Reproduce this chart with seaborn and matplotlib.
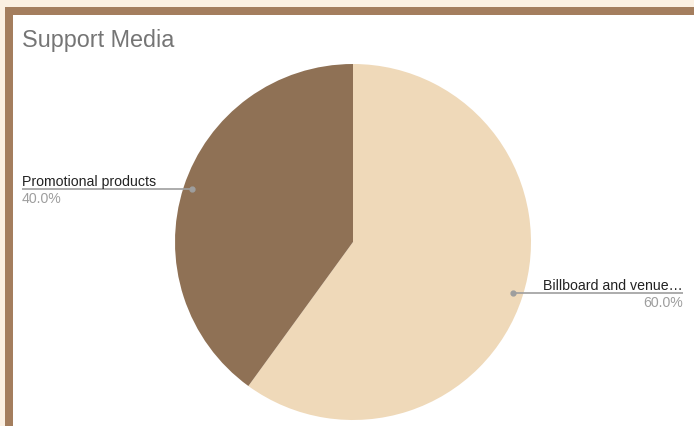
import matplotlib
matplotlib.use("Agg")
import matplotlib.pyplot as plt
import seaborn as sns
from matplotlib.patches import Rectangle

# Data
categories = ["Billboard and venue\u2026", "Promotional products"]
shares = [60.0, 40.0]
slice_colors = ["#EFD9B9", "#8F7155"]
title_text = "Support Media"

sns.set_theme(style="white")
plt.rcParams["font.family"] = ["Liberation Sans", "DejaVu Sans"]

W, H = 694, 427
fig = plt.figure(figsize=(W / 100, H / 100), dpi=100)
fig.patch.set_facecolor("#FBF0E2")

# Frame: brown border along top and left, white card inside
fig.patches.append(Rectangle((5 / W, 0), 1 - 5 / W, 1 - 8 / H,
                             transform=fig.transFigure, facecolor="#A47E5E",
                             edgecolor="none", zorder=-2))
fig.patches.append(Rectangle((13 / W, 0), 1 - 13 / W, 1 - 16 / H,
                             transform=fig.transFigure, facecolor="white",
                             edgecolor="none", zorder=-1))

# Full-figure axes, data units scaled so a unit radius is 178 px
cx, cy, r = 353, 243, 178
ax = fig.add_axes([0, 0, 1, 1])
ax.set_zorder(1)
ax.set_facecolor("none")
wedges, _ = ax.pie(shares, colors=slice_colors, startangle=90, counterclock=False,
                   radius=1.0, wedgeprops=dict(linewidth=0))
ax.set_aspect("auto")
ax.set_xlim(-cx / r, (W - cx) / r)
ax.set_ylim(-(H - cy) / r, cy / r)
ax.axis("off")


def px(x, y):
    """Pixel position (from top-left) to data coordinates."""
    return (x - cx) / r, (cy - y) / r


line_col = "#9E9E9E"
lab_col = "#222222"
pct_col = "#9E9E9E"
fs = 10.2

# Billboard label (right side)
x0, y0 = px(513, 294)
x1, _ = px(683, 294)
ax.plot([x0, x1], [y0, y0], color=line_col, lw=1.2, solid_capstyle="butt")
ax.plot([x0], [y0], "o", color=line_col, ms=3.5)
tx, ty = px(683, 290)
ax.text(tx, ty, categories[0], ha="right", va="baseline", fontsize=fs, color=lab_col)
tx, ty = px(683, 307)
ax.text(tx, ty, f"{shares[0]:.1f}%", ha="right", va="baseline", fontsize=fs, color=pct_col)

# Promotional label (left side)
x0, y0 = px(192, 190)
x1, _ = px(22, 190)
ax.plot([x1, x0], [y0, y0], color=line_col, lw=1.2, solid_capstyle="butt")
ax.plot([x0], [y0], "o", color=line_col, ms=3.5)
tx, ty = px(22, 186)
ax.text(tx, ty, categories[1], ha="left", va="baseline", fontsize=fs, color=lab_col)
tx, ty = px(22, 203)
ax.text(tx, ty, f"{shares[1]:.1f}%", ha="left", va="baseline", fontsize=fs, color=pct_col)

# Title
fig.text(22 / W, 1 - 47 / H, title_text, ha="left", va="baseline",
         fontsize=16.8, color="#757575")

fig.savefig("out.png", dpi=100, facecolor=fig.get_facecolor())
